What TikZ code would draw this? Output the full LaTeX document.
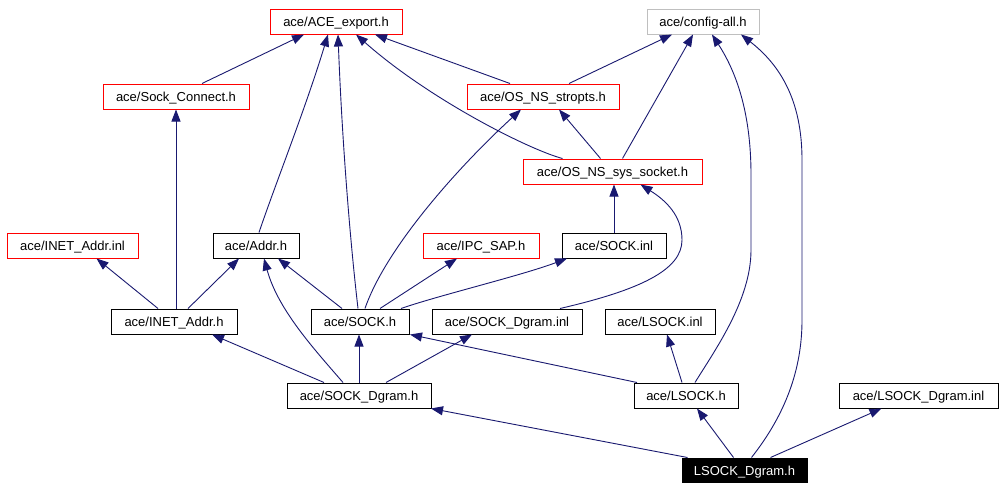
\documentclass[tikz,border=0pt]{standalone}
\usepackage{fontspec}
\setmainfont{Liberation Sans}
\usetikzlibrary{arrows.meta}
\definecolor{edgeblue}{HTML}{191970}
\definecolor{boxred}{HTML}{FF0000}
\definecolor{boxgray}{HTML}{BFBFBF}
\begin{document}
\begin{tikzpicture}[x=1pt,y=-1pt,
  box/.style={draw=black, line width=1pt, inner sep=0pt, minimum height=25pt, text height=12pt, text depth=2pt, font=\fontsize{13}{15}\selectfont},
  redbox/.style={box, draw=boxred},
  graybox/.style={box, draw=boxgray},
  selbox/.style={box, fill=black, text=white},
  edge/.style={draw=edgeblue, line width=0.9pt, -{Triangle[length=12pt,width=9pt]}}]
\useasboundingbox[fill=white] (0,0) rectangle (1004,490);
% nodes
\node[redbox, minimum width=132pt] (ace) at (336,21.5) {ace/ACE\_export.h};
\node[graybox, minimum width=112pt] (config) at (703,21.5) {ace/config-all.h};
\node[redbox, minimum width=146pt] (sc) at (176,96.5) {ace/Sock\_Connect.h};
\node[redbox, minimum width=152pt] (stropts) at (543,96.5) {ace/OS\_NS\_stropts.h};
\node[redbox, minimum width=179pt] (syssock) at (612.5,171.5) {ace/OS\_NS\_sys\_socket.h};
\node[redbox, minimum width=131pt] (inetinl) at (72.5,245.5) {ace/INET\_Addr.inl};
\node[box, minimum width=86pt] (addr) at (256,245.5) {ace/Addr.h};
\node[redbox, minimum width=116pt] (ipc) at (481,245.5) {ace/IPC\_SAP.h};
\node[box, minimum width=104pt] (sockinl) at (614,245.5) {ace/SOCK.inl};
\node[box, minimum width=126pt] (inetaddr) at (174,321.5) {ace/INET\_Addr.h};
\node[box, minimum width=98pt] (sock) at (360,321.5) {ace/SOCK.h};
\node[box, minimum width=150pt] (sdinl) at (507,321.5) {ace/SOCK\_Dgram.inl};
\node[box, minimum width=110pt] (lsockinl) at (660,321.5) {ace/LSOCK.inl};
\node[box, minimum width=144pt] (sdgram) at (359,395.5) {ace/SOCK\_Dgram.h};
\node[box, minimum width=104pt] (lsock) at (686,395.5) {ace/LSOCK.h};
\node[box, minimum width=159pt] (lsdinl) at (918.5,395.5) {ace/LSOCK\_Dgram.inl};
\node[selbox, minimum width=125pt, minimum height=24pt] (lsd) at (744.5,470) {LSOCK\_Dgram.h};
% edges
\draw[edge] ([xshift=26pt]sc.north) -- ([xshift=-32pt]ace.south);
\draw[edge] ([xshift=-33pt]stropts.north) -- ([xshift=39pt]ace.south);
\draw[edge] ([xshift=26pt]stropts.north) -- ([xshift=-31pt]config.south);
\draw[edge] ([xshift=-12pt]syssock.north) -- ([xshift=16pt]stropts.south);
\draw[edge] ([xshift=10pt]syssock.north) -- ([xshift=-10pt]config.south);
\draw[edge] ([xshift=-50pt]syssock.north) .. controls (530,150) and (430,100) .. ([xshift=20pt]ace.south);
\draw[edge] ([xshift=3pt]addr.north) .. controls (275,185) and (305,110) .. ([xshift=-8pt]ace.south);
\draw[edge] ([xshift=-2pt]sock.north) .. controls (350,240) and (342,140) .. ([xshift=2pt]ace.south);
\draw[edge] ([xshift=5pt]sock.north) .. controls (385,250) and (455,170) .. ([xshift=-22pt]stropts.south);
\draw[edge] ([xshift=2pt]inetaddr.north) -- (sc.south);
\draw[edge] ([xshift=-16pt]inetaddr.north) -- ([xshift=24pt]inetinl.south);
\draw[edge] ([xshift=14pt]inetaddr.north) -- ([xshift=-17pt]addr.south);
\draw[edge] ([xshift=-18pt]sock.north) -- ([xshift=22pt]addr.south);
\draw[edge] ([xshift=20pt]sock.north) -- ([xshift=-24pt]ipc.south);
\draw[edge] ([xshift=41pt]sock.north) .. controls (440,295) and (520,276) .. ([xshift=-47pt]sockinl.south);
\draw[edge] (sockinl.north) -- ([xshift=1.5pt]syssock.south);
\draw[edge] ([xshift=53pt]sdinl.north) .. controls (640,290) and (682,270) .. (682,240) .. controls (682,215) and (665,200) .. ([xshift=28pt]syssock.south);
\draw[edge] ([xshift=-35pt]sdgram.north) -- ([xshift=38pt]inetaddr.south);
\draw[edge] ([xshift=-16pt]sdgram.north) .. controls (315,350) and (278,310) .. ([xshift=8pt]addr.south);
\draw[edge] (sdgram.north) -- ([xshift=-1pt]sock.south);
\draw[edge] ([xshift=27pt]sdgram.north) -- ([xshift=-35pt]sdinl.south);
\draw[edge] ([xshift=-49pt]lsock.north) -- ([xshift=50pt]sock.south);
\draw[edge] ([xshift=-4pt]lsock.north) -- ([xshift=7pt]lsockinl.south);
\draw[edge] ([xshift=9pt]lsock.north) .. controls (715,350) and (751,300) .. (751,250) -- (751,175) .. controls (751,110) and (735,70) .. ([xshift=9pt]config.south);
\draw[edge] ([xshift=-57pt]lsd.north) -- ([xshift=72pt]sdgram.south);
\draw[edge] ([xshift=-11pt]lsd.north) -- ([xshift=11pt]lsock.south);
\draw[edge] ([xshift=7pt]lsd.north) .. controls (785,415) and (802,370) .. (802,320) -- (802,160) .. controls (802,100) and (780,65) .. ([xshift=38pt]config.south);
\draw[edge] ([xshift=26pt]lsd.north) -- ([xshift=-37pt]lsdinl.south);
\end{tikzpicture}
\end{document}
